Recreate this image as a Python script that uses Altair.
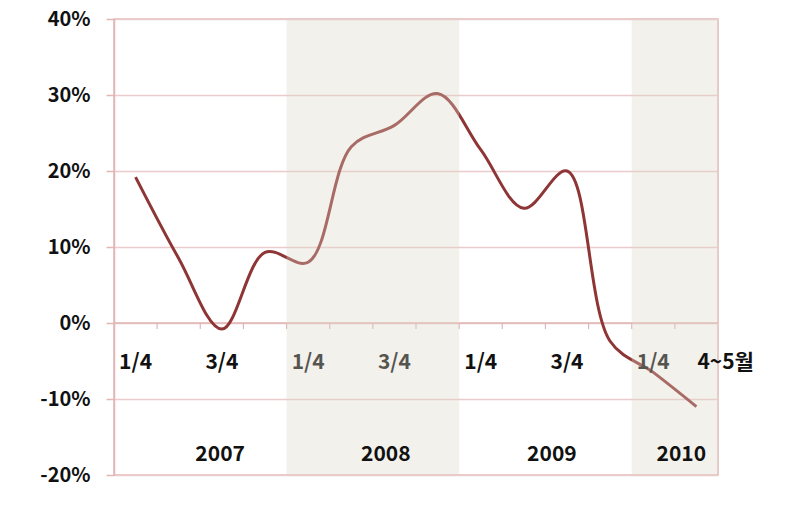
import altair as alt
import pandas as pd

# Data
periods = ["2007 1/4", "2007 2/4", "2007 3/4", "2007 4/4",
           "2008 1/4", "2008 2/4", "2008 3/4", "2008 4/4",
           "2009 1/4", "2009 2/4", "2009 3/4", "2009 4/4",
           "2010 1/4", "2010 4~5월"]
values = [19.2, 8.5, -0.8, 9.3, 8.0, 23.2, 26.0, 30.2, 22.8, 15.1, 20.0, -2.4, -6.5, -11.0]

quarter_labels = ["1/4", "3/4", "1/4", "3/4", "1/4", "3/4", "1/4"]
quarter_index = [0, 2, 4, 6, 8, 10, 12]
last_label = "4~5월"
years = ["2007", "2008", "2009", "2010"]
year_pos = [2.46, 6.3, 10.15, 13.15]
shade_start = [4, 12]
shade_end = [8, 14]
y_ticks = [-20, -10, 0, 10, 20, 30, 40]

FONT = "Noto Sans CJK KR"
LINE = "#8E3535"
GRID = "#EBCBCB"
AXIS = "#E2B6B6"

df = pd.DataFrame({"period": periods, "value": values,
                   "x": [i + 0.5 for i in range(len(periods))]})
qdf = pd.DataFrame({"label": quarter_labels, "x": [i + 0.5 for i in quarter_index]})
ydf = pd.DataFrame({"label": years, "x": year_pos})
sdf = pd.DataFrame({"x": shade_start, "x2": shade_end})
tdf = pd.DataFrame({"x": list(range(1, 14))})
ldf = pd.DataFrame({"label": [last_label], "x": [13.5]})

xs = alt.Scale(domain=[0, 14], nice=False, zero=False)
ys = alt.Scale(domain=[-20, 40], nice=False)

base_y = alt.Y("value:Q", scale=ys,
               axis=alt.Axis(values=y_ticks, labelExpr="datum.value + '%'",
                             title=None, grid=True, gridColor=GRID, gridWidth=1.5,
                             domain=True, domainColor=AXIS, domainWidth=1.5,
                             ticks=True, tickColor=AXIS, tickSize=8, tickWidth=1.5,
                             labelFont=FONT, labelFontSize=20, labelFontWeight="bold",
                             labelColor="#111111", labelPadding=16))

line = alt.Chart(df).mark_line(color=LINE, strokeWidth=3, interpolate="catmull-rom").encode(
    x=alt.X("x:Q", scale=xs, axis=None),
    y=base_y,
)

zero_rule = alt.Chart(pd.DataFrame({"value": [0]})).mark_rule(color=AXIS, strokeWidth=1.5).encode(
    y=alt.Y("value:Q", scale=ys),
)

ticks = alt.Chart(tdf).mark_rule(color=AXIS, strokeWidth=1.2).encode(
    x=alt.X("x:Q", scale=xs, axis=None),
    y=alt.value(304),
    y2=alt.value(310),
)

qtext = alt.Chart(qdf).mark_text(font=FONT, fontSize=21, fontWeight="bold", color="#111111",
                                 baseline="middle", align="center").encode(
    x=alt.X("x:Q", scale=xs, axis=None),
    y=alt.value(344),
    text="label:N",
)

shade = alt.Chart(sdf).mark_rect(color="#DBD5C6", opacity=0.34).encode(
    x=alt.X("x:Q", scale=xs, axis=None),
    x2="x2:Q",
)

ytext = alt.Chart(ydf).mark_text(font=FONT, fontSize=21, fontWeight="bold", color="#111111",
                                 baseline="middle", align="center").encode(
    x=alt.X("x:Q", scale=xs, axis=None),
    y=alt.value(436),
    text="label:N",
)

ltext = alt.Chart(ldf).mark_text(font=FONT, fontSize=21, fontWeight="bold", color="#111111",
                                 baseline="middle", align="left", dx=1).encode(
    x=alt.X("x:Q", scale=xs, axis=None),
    y=alt.value(344),
    text="label:N",
)

chart = alt.layer(zero_rule, ticks, line, qtext, shade, ytext, ltext).properties(
    width=604, height=456,
    autosize=alt.AutoSizeParams(type="none"),
    padding={"left": 114, "top": 19, "right": 78, "bottom": 30},
    background="white",
).configure_view(stroke=AXIS, strokeWidth=1.5)

chart.save("out.html", embed_options={"renderer": "svg", "actions": False})
